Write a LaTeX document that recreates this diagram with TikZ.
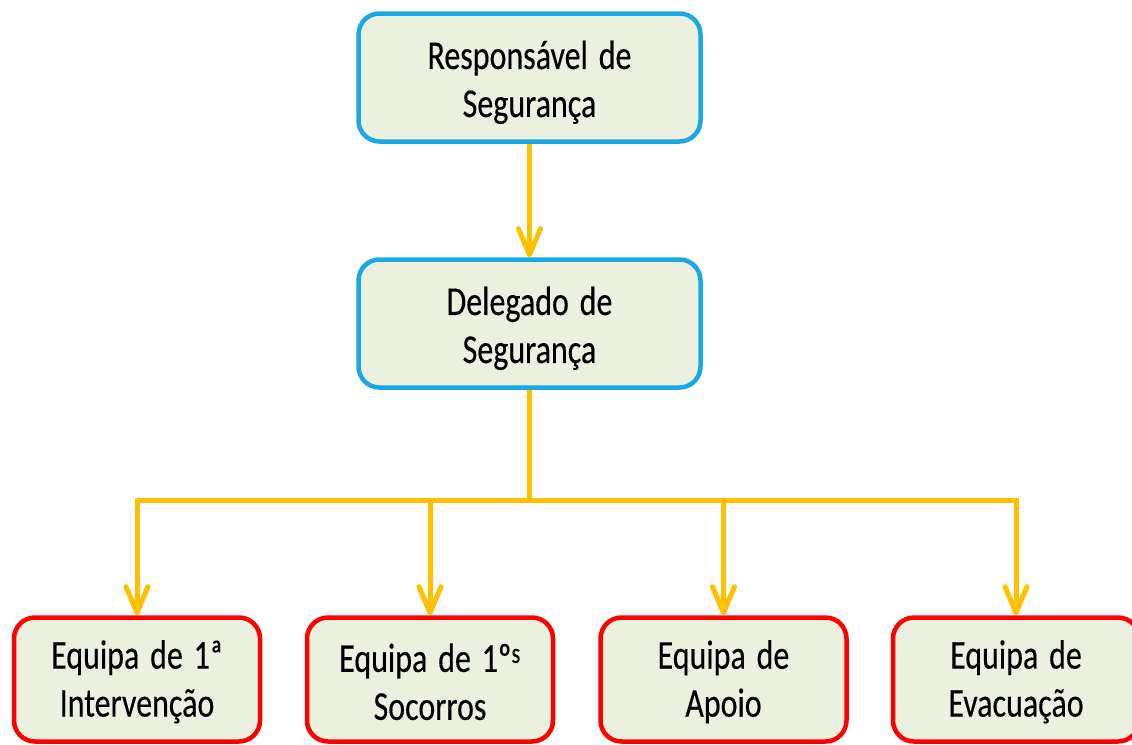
\documentclass[tikz,border=0pt]{standalone}
\usepackage{fontspec}
\setmainfont[FakeStretch=0.78,FakeBold=0.3,WordSpace=1.5]{Carlito}
\usetikzlibrary{arrows.meta}
\definecolor{boxfill}{HTML}{EBF1DE}
\definecolor{bluebd}{HTML}{1AA8E4}
\definecolor{redbd}{HTML}{FF0000}
\definecolor{gold}{HTML}{FFC000}
\newcommand{\topstrut}{\rule{0pt}{38pt}}
\newcommand{\teamstrut}{\rule{0pt}{33pt}}
\tikzset{
  basebox/.style={rounded corners=21pt, fill=boxfill, line width=4.5pt,
    align=center, inner sep=0pt, font=\fontsize{41}{48}\selectfont},
  topbox/.style={basebox, draw=bluebd, minimum width=342pt, minimum height=128pt},
  teambox/.style={basebox, draw=redbd, minimum width=246pt, minimum height=124pt},
  conn/.style={draw=gold, line width=5pt, line join=miter,
    -{Straight Barb[length=26pt,width=22pt,line cap=round,line join=round]}},
  plain/.style={draw=gold, line width=5pt}
}
\begin{document}
\begin{tikzpicture}[x=1pt,y=-1pt]
\useasboundingbox (0,0) rectangle (1132,744);
\clip (0,0) rectangle (1132,744);
\node[topbox] (resp) at (529.5,77.5) {\topstrut Responsável de\\Segurança};
\node[topbox] (deleg) at (529.5,323.5) {\topstrut Delegado de\\Segurança};
\node[teambox] (e1) at (137,679.5) {\teamstrut Equipa de 1ª\\Intervenção};
\node[teambox] (e2) at (430,679.5) {\teamstrut Equipa de 1º\textsuperscript{s}\\Socorros};
\node[teambox] (e3) at (723.5,679.5) {\teamstrut Equipa de\\Apoio};
\node[teambox] (e4) at (1016,679.5) {\teamstrut Equipa de\\Evacuação};
\coordinate (junc) at (529.5,500);
\draw[conn] (resp) -- (deleg);
\draw[plain] (deleg.south) -- (junc);
\draw[conn] (junc) -| (e1.north);
\draw[conn] (junc) -| (e2.north);
\draw[conn] (junc) -| (e3.north);
\draw[conn] (junc) -| (e4.north);
\end{tikzpicture}
\end{document}
